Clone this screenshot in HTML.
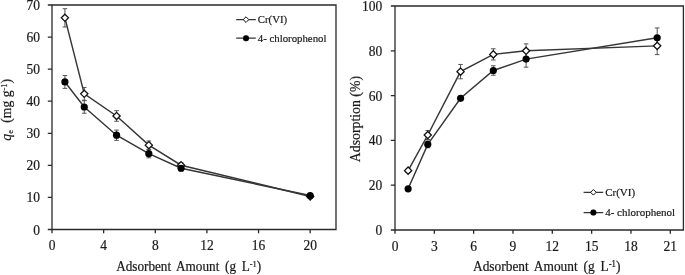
<!DOCTYPE html>
<html><head><meta charset="utf-8"><style>
html,body{margin:0;padding:0;background:#fff;}
svg{display:block;will-change:transform;font-family:"Liberation Serif",serif;}
</style></head><body>
<svg width="685" height="275" viewBox="0 0 685 275">
<g>
<rect width="685" height="275" fill="#fff"/>
<path d="M52.00 5.00H336.00V229.50H52.00Z" fill="none" stroke="#2a2a2a" stroke-width="1.3"/>
<path d="M47.80 229.50H52.00M47.80 197.43H52.00M47.80 165.36H52.00M47.80 133.29H52.00M47.80 101.21H52.00M47.80 69.14H52.00M47.80 37.07H52.00M47.80 5.00H52.00M52.00 229.50V233.30M103.64 229.50V233.30M155.27 229.50V233.30M206.91 229.50V233.30M258.55 229.50V233.30M310.18 229.50V233.30" stroke="#2a2a2a" stroke-width="1.3" fill="none"/>
<path d="M64.91 8.69V26.97M62.61 8.69H67.21M62.61 26.97H67.21M84.27 87.42V100.25M81.97 87.42H86.57M81.97 100.25H86.57M116.55 110.68V121.26M114.25 110.68H118.85M114.25 121.26H118.85M148.82 140.98V149.32M146.52 140.98H151.12M146.52 149.32H151.12M181.09 162.63V167.76M178.79 162.63H183.39M178.79 167.76H183.39M310.18 194.54V198.39M307.88 194.54H312.48M307.88 198.39H312.48M64.91 75.56V88.39M62.61 75.56H67.21M62.61 88.39H67.21M84.27 100.73V113.24M81.97 100.73H86.57M81.97 113.24H86.57M116.55 130.08V140.34M114.25 130.08H118.85M114.25 140.34H118.85M148.82 149.48V157.82M146.52 149.48H151.12M146.52 157.82H151.12M181.09 165.68V170.81M178.79 165.68H183.39M178.79 170.81H183.39M310.18 193.58V197.43M307.88 193.58H312.48M307.88 197.43H312.48" stroke="#555" stroke-width="1.0" fill="none"/>
<polyline points="64.91,17.83 84.27,93.84 116.55,115.97 148.82,145.15 181.09,165.20 310.18,196.47" fill="none" stroke="#363636" stroke-width="1.45"/>
<polyline points="64.91,81.97 84.27,106.99 116.55,135.21 148.82,153.65 181.09,168.24 310.18,195.50" fill="none" stroke="#363636" stroke-width="1.45"/>
<path d="M64.91 14.23L68.51 17.83L64.91 21.43L61.31 17.83Z" fill="#fff" stroke="#111" stroke-width="1.3"/>
<path d="M84.27 90.24L87.87 93.84L84.27 97.44L80.67 93.84Z" fill="#fff" stroke="#111" stroke-width="1.3"/>
<path d="M116.55 112.37L120.15 115.97L116.55 119.57L112.95 115.97Z" fill="#fff" stroke="#111" stroke-width="1.3"/>
<path d="M148.82 141.55L152.42 145.15L148.82 148.75L145.22 145.15Z" fill="#fff" stroke="#111" stroke-width="1.3"/>
<path d="M181.09 161.60L184.69 165.20L181.09 168.80L177.49 165.20Z" fill="#fff" stroke="#111" stroke-width="1.3"/>
<path d="M310.18 192.87L313.78 196.47L310.18 200.07L306.58 196.47Z" fill="#fff" stroke="#111" stroke-width="1.3"/>
<circle cx="64.91" cy="81.97" r="3.6" fill="#000"/>
<circle cx="84.27" cy="106.99" r="3.6" fill="#000"/>
<circle cx="116.55" cy="135.21" r="3.6" fill="#000"/>
<circle cx="148.82" cy="153.65" r="3.6" fill="#000"/>
<circle cx="181.09" cy="168.24" r="3.6" fill="#000"/>
<circle cx="310.18" cy="195.50" r="3.6" fill="#000"/>
<path d="M395.00 6.00H683.40V230.00H395.00Z" fill="none" stroke="#2a2a2a" stroke-width="1.3"/>
<path d="M390.80 230.00H395.00M390.80 185.20H395.00M390.80 140.40H395.00M390.80 95.60H395.00M390.80 50.80H395.00M390.80 6.00H395.00M395.00 230.00V233.80M434.33 230.00V233.80M473.65 230.00V233.80M512.98 230.00V233.80M552.31 230.00V233.80M591.64 230.00V233.80M630.96 230.00V233.80M670.29 230.00V233.80" stroke="#2a2a2a" stroke-width="1.3" fill="none"/>
<path d="M408.11 168.85V172.43M405.81 168.85H410.41M405.81 172.43H410.41M427.77 130.54V139.50M425.47 130.54H430.07M425.47 139.50H430.07M460.55 64.46V78.80M458.25 64.46H462.85M458.25 78.80H462.85M493.32 48.78V59.98M491.02 48.78H495.62M491.02 59.98H495.62M526.09 43.86V57.74M523.79 43.86H528.39M523.79 57.74H528.39M657.18 37.14V54.61M654.88 37.14H659.48M654.88 54.61H659.48M408.11 187.66V189.90M405.81 187.66H410.41M405.81 189.90H410.41M427.77 141.07V147.79M425.47 141.07H430.07M425.47 147.79H430.07M460.55 96.05V100.53M458.25 96.05H462.85M458.25 100.53H462.85M493.32 65.81V75.22M491.02 65.81H495.62M491.02 75.22H495.62M526.09 51.02V67.15M523.79 51.02H528.39M523.79 67.15H528.39M657.18 27.95V47.66M654.88 27.95H659.48M654.88 47.66H659.48" stroke="#555" stroke-width="1.0" fill="none"/>
<polyline points="408.11,170.64 427.77,135.02 460.55,71.63 493.32,54.38 526.09,50.80 657.18,45.87" fill="none" stroke="#363636" stroke-width="1.45"/>
<polyline points="408.11,188.78 427.77,144.43 460.55,98.29 493.32,70.51 526.09,59.09 657.18,37.81" fill="none" stroke="#363636" stroke-width="1.45"/>
<path d="M408.11 167.04L411.71 170.64L408.11 174.24L404.51 170.64Z" fill="#fff" stroke="#111" stroke-width="1.3"/>
<path d="M427.77 131.42L431.37 135.02L427.77 138.62L424.17 135.02Z" fill="#fff" stroke="#111" stroke-width="1.3"/>
<path d="M460.55 68.03L464.15 71.63L460.55 75.23L456.95 71.63Z" fill="#fff" stroke="#111" stroke-width="1.3"/>
<path d="M493.32 50.78L496.92 54.38L493.32 57.98L489.72 54.38Z" fill="#fff" stroke="#111" stroke-width="1.3"/>
<path d="M526.09 47.20L529.69 50.80L526.09 54.40L522.49 50.80Z" fill="#fff" stroke="#111" stroke-width="1.3"/>
<path d="M657.18 42.27L660.78 45.87L657.18 49.47L653.58 45.87Z" fill="#fff" stroke="#111" stroke-width="1.3"/>
<circle cx="408.11" cy="188.78" r="3.6" fill="#000"/>
<circle cx="427.77" cy="144.43" r="3.6" fill="#000"/>
<circle cx="460.55" cy="98.29" r="3.6" fill="#000"/>
<circle cx="493.32" cy="70.51" r="3.6" fill="#000"/>
<circle cx="526.09" cy="59.09" r="3.6" fill="#000"/>
<circle cx="657.18" cy="37.81" r="3.6" fill="#000"/>
<g fill="#1a1a1a" stroke="#1a1a1a" stroke-width="0.2">
<text transform="translate(39.90,234.50) scale(1,1.07)" text-anchor="end" font-size="13.5">0</text>
<text transform="translate(39.90,202.43) scale(1,1.07)" text-anchor="end" font-size="13.5">10</text>
<text transform="translate(39.90,170.36) scale(1,1.07)" text-anchor="end" font-size="13.5">20</text>
<text transform="translate(39.90,138.29) scale(1,1.07)" text-anchor="end" font-size="13.5">30</text>
<text transform="translate(39.90,106.21) scale(1,1.07)" text-anchor="end" font-size="13.5">40</text>
<text transform="translate(39.90,74.14) scale(1,1.07)" text-anchor="end" font-size="13.5">50</text>
<text transform="translate(39.90,42.07) scale(1,1.07)" text-anchor="end" font-size="13.5">60</text>
<text transform="translate(39.90,10.00) scale(1,1.07)" text-anchor="end" font-size="13.5">70</text>
<text transform="translate(52.00,249.70) scale(1,1.07)" text-anchor="middle" font-size="13.5">0</text>
<text transform="translate(103.64,249.70) scale(1,1.07)" text-anchor="middle" font-size="13.5">4</text>
<text transform="translate(155.27,249.70) scale(1,1.07)" text-anchor="middle" font-size="13.5">8</text>
<text transform="translate(206.91,249.70) scale(1,1.07)" text-anchor="middle" font-size="13.5">12</text>
<text transform="translate(258.55,249.70) scale(1,1.07)" text-anchor="middle" font-size="13.5">16</text>
<text transform="translate(310.18,249.70) scale(1,1.07)" text-anchor="middle" font-size="13.5">20</text>
<text transform="translate(382.20,235.00) scale(1,1.07)" text-anchor="end" font-size="13.5">0</text>
<text transform="translate(382.20,190.20) scale(1,1.07)" text-anchor="end" font-size="13.5">20</text>
<text transform="translate(382.20,145.40) scale(1,1.07)" text-anchor="end" font-size="13.5">40</text>
<text transform="translate(382.20,100.60) scale(1,1.07)" text-anchor="end" font-size="13.5">60</text>
<text transform="translate(382.20,55.80) scale(1,1.07)" text-anchor="end" font-size="13.5">80</text>
<text transform="translate(382.20,11.00) scale(1,1.07)" text-anchor="end" font-size="13.5">100</text>
<text transform="translate(395.00,250.50) scale(1,1.07)" text-anchor="middle" font-size="13.5">0</text>
<text transform="translate(434.33,250.50) scale(1,1.07)" text-anchor="middle" font-size="13.5">3</text>
<text transform="translate(473.65,250.50) scale(1,1.07)" text-anchor="middle" font-size="13.5">6</text>
<text transform="translate(512.98,250.50) scale(1,1.07)" text-anchor="middle" font-size="13.5">9</text>
<text transform="translate(552.31,250.50) scale(1,1.07)" text-anchor="middle" font-size="13.5">12</text>
<text transform="translate(591.64,250.50) scale(1,1.07)" text-anchor="middle" font-size="13.5">15</text>
<text transform="translate(630.96,250.50) scale(1,1.07)" text-anchor="middle" font-size="13.5">18</text>
<text transform="translate(670.29,250.50) scale(1,1.07)" text-anchor="middle" font-size="13.5">21</text>
<path d="M236.20 19.60H255.80M236.20 38.20H255.80" stroke="#363636" stroke-width="1.2"/>
<path d="M246.00 16.80L248.80 19.60L246.00 22.40L243.20 19.60Z" fill="#fff" stroke="#111" stroke-width="1"/>
<circle cx="246.00" cy="38.20" r="3" fill="#000"/>
<text x="257.80" y="23.20" font-size="10.8">Cr(VI)</text>
<text x="257.80" y="41.80" font-size="10.8">4- chlorophenol</text>
<path d="M583.60 192.30H603.20M583.60 212.60H603.20" stroke="#363636" stroke-width="1.2"/>
<path d="M593.40 189.50L596.20 192.30L593.40 195.10L590.60 192.30Z" fill="#fff" stroke="#111" stroke-width="1"/>
<circle cx="593.40" cy="212.60" r="3" fill="#000"/>
<text x="605.20" y="195.90" font-size="11">Cr(VI)</text>
<text x="605.20" y="216.20" font-size="11">4- chlorophenol</text>
<text transform="translate(188.70,270.80) scale(1,1.07)" text-anchor="middle" font-size="13.2" word-spacing="2.4">Adsorbent Amount (g L<tspan dy="-3.6" font-size="8.5">-1</tspan><tspan dy="3.6">)</tspan></text>
<text transform="translate(546.70,270.80) scale(1,1.07)" text-anchor="middle" font-size="13.4" word-spacing="2.5">Adsorbent Amount (g L<tspan dy="-3.6" font-size="8.7">-1</tspan><tspan dy="3.6">)</tspan></text>
<text transform="translate(10.8,109.8) rotate(-90)" text-anchor="middle" font-size="13.6"><tspan font-style="italic">q</tspan><tspan dy="2.5" font-size="8.5">e</tspan><tspan dy="-2.5"> </tspan><tspan dx="4">(mg g</tspan><tspan dy="-4.3" font-size="8.5">-1</tspan><tspan dy="4.3">)</tspan></text>
<text transform="translate(359.5,119.1) rotate(-90)" text-anchor="middle" font-size="13.8">Adsorption (%)</text>
</g>
</g>
</svg>
</body></html>
